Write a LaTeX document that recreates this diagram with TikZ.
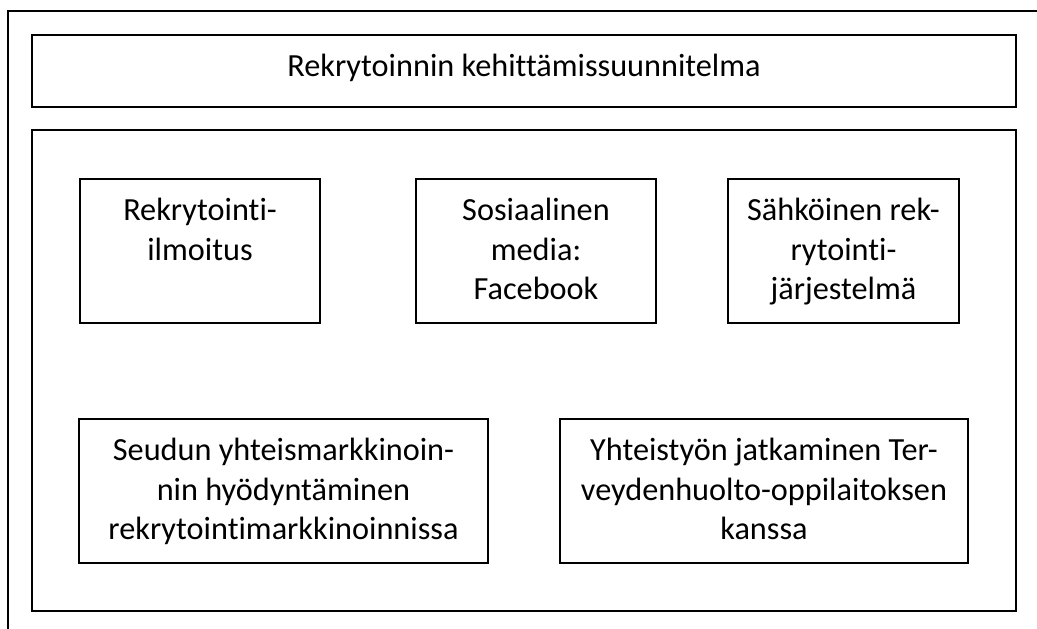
\documentclass[tikz,border=0pt]{standalone}
\usepackage{fontspec}
\setmainfont{Carlito}[Ligatures={NoCommon,NoContextual,NoRare}]
\usetikzlibrary{fit}
\begin{document}
\begin{tikzpicture}[x=0.75pt,y=-0.75pt,
  frame/.style={draw=black,line width=1.2pt,inner sep=0pt,outer sep=0pt},
  lbl/.style={align=center,inner sep=0pt,anchor=north,font=\fontsize{24.2}{29.5}\selectfont}]
\useasboundingbox (0,0) rectangle (1037,628);
\coordinate (ftr) at (1040,11);
\coordinate (ftl) at (8,11);
\coordinate (fbl) at (8,631);
\draw[line width=1.2pt] (ftr) -- (ftl) -- (fbl);
\node[frame,fit={(32,35)(1016,107)}] (head) {};
\node[frame,fit={(32,130)(1016,611)}] (main) {};
\node[frame,fit={(80,179)(320,323)}] (b1) {};
\node[frame,fit={(416,179)(656,323)}] (b2) {};
\node[frame,fit={(728,179)(959,323)}] (b3) {};
\node[frame,fit={(79,419)(488,563)}] (b4) {};
\node[frame,fit={(560,419)(968,563)}] (b5) {};
\node[inner sep=0pt,anchor=base,font=\fontsize{24.2}{29.5}\selectfont] (th) at (524,76) {Rekrytoinnin kehittämissuunnitelma};
\node[lbl] (t1) at ([yshift=-10.5pt]b1.north) {\strut Rekrytointi-\\ilmoitus};
\node[lbl] (t2) at ([yshift=-10.5pt]b2.north) {\strut Sosiaalinen\\media:\\Facebook};
\node[lbl] (t3) at ([yshift=-10.5pt]b3.north) {\strut Sähköinen rek-\\rytointi-\\järjestelmä};
\node[lbl] (t4) at ([yshift=-10.5pt]b4.north) {\strut Seudun yhteismarkkinoin-\\nin hyödyntäminen\\rekrytointimarkkinoinnissa};
\node[lbl] (t5) at ([yshift=-10.5pt]b5.north) {\strut Yhteistyön jatkaminen Ter-\\veydenhuolto-oppilaitoksen\\kanssa};
\end{tikzpicture}
\end{document}
